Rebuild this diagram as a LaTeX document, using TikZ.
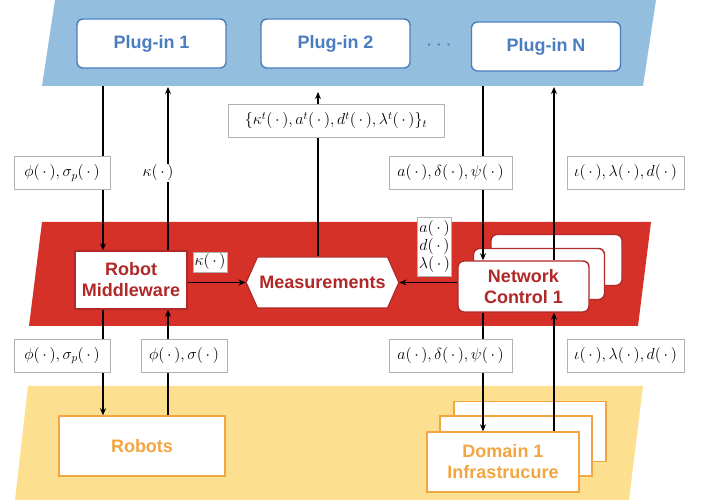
\RequirePackage{fix-cm}
\documentclass[tikz,border=0pt]{standalone}
\usepackage{fontspec}
\setsansfont{Liberation Sans}
\usetikzlibrary{arrows.meta,shapes.symbols}

\definecolor{bandblue}{HTML}{93BEDD}
\definecolor{plugblue}{HTML}{4A7DC0}
\definecolor{bandred}{HTML}{D63129}
\definecolor{boxred}{HTML}{B02828}
\definecolor{bandyellow}{HTML}{FDDF90}
\definecolor{boxorange}{HTML}{F2A541}

\newcommand{\argdot}{(\,\cdot\,)}

\begin{document}
\begin{tikzpicture}[x=1pt, y=-1pt, line width=1.3pt,
  big/.style={font=\sffamily\bfseries\fontsize{18}{21}\selectfont, align=center},
  plugin/.style={big, draw=plugblue, line width=1.4pt, fill=white, text=plugblue,
    rounded corners=6pt, minimum width=149pt, minimum height=49pt},
  ctrl/.style={big, draw=boxred, line width=1.4pt, fill=white, text=boxred,
    rounded corners=6pt, minimum width=131pt, minimum height=51pt},
  infra/.style={big, draw=boxorange, line width=1.4pt, fill=white, text=boxorange,
    minimum width=152pt, minimum height=60pt},
  lbl/.style={draw=gray!60, line width=0.8pt, fill=white, inner xsep=4pt,
    minimum height=33pt, font=\fontsize{16}{18}\selectfont},
  arr/.style={-{Stealth[length=7pt,width=6pt]}}]
  \useasboundingbox (0,0) rectangle (702,502);
  % layers
  \fill[bandblue] (55,0) -- (656,0) -- (643,86) -- (42,86) -- cycle;
  \fill[bandred] (42,222) -- (651,222) -- (638,326) -- (29,326) -- cycle;
  \fill[bandyellow] (28,386) -- (643,386) -- (629,500) -- (15,500) -- cycle;
  % plug-ins
  \node[plugin] (p1) at (151.5,43.5) {Plug-in 1};
  \node[plugin] (p2) at (335.5,43.5) {Plug-in 2};
  \node[plugin] (pN) at (546,46.5) {Plug-in N};
  \node[text=plugblue, font=\fontsize{22}{22}\selectfont] (dots) at (439,46) {$\cdots$};
  % middle layer
  \node[big, draw=boxred, line width=1.4pt, fill=white, text=boxred,
    minimum width=112pt, minimum height=58pt] (rm) at (131,280) {Robot\\Middleware};
  \node[big, shape=signal, signal to=east and west, signal pointer angle=132,
    draw=boxred, line width=1.2pt, fill=white, text=boxred, inner xsep=2pt,
    minimum width=147pt, minimum height=51pt] (meas) at (322.5,282.5) {Measurements};
  \node[ctrl] (nc3) at (556.5,260) {};
  \node[ctrl] (nc2) at (539,274) {};
  \node[ctrl] (nc1) at (523.5,286.5) {Network\\Control 1};
  % bottom layer
  \node[infra, minimum width=166pt] (robots) at (142,446) {Robots};
  \node[infra] (dom3) at (530,431.5) {};
  \node[infra] (dom2) at (516,446) {};
  \node[infra] (dom1) at (503,462) {Domain 1\\Infrastrucure};
  % band edges
  \coordinate (b1) at (103,86);
  \coordinate (b2) at (168,87);
  \coordinate (b3) at (318,92);
  \coordinate (b4) at (483,86);
  \coordinate (b5) at (554,87);
  % connectors
  \draw[arr] (b1) -- (rm.north -| b1);
  \draw[arr] (rm.north -| b2) -- (b2);
  \draw[arr] (meas.north -| b3) -- (b3);
  \draw[arr] (b4) -- (nc1.north -| b4);
  \draw[arr] (nc1.north -| b5) -- (b5);
  \draw[arr] (rm.east |- meas.west) -- (meas.west);
  \draw[arr] (nc1.west |- meas.east) -- (meas.east);
  \draw[arr] (rm.south -| b1) -- (robots.north -| b1);
  \draw[arr] (robots.north -| b2) -- (rm.south -| b2);
  \draw[arr] (nc1.south -| b4) -- (dom1.north -| b4);
  \draw[arr] (dom1.north -| b5) -- (nc1.south -| b5);
  % labels
  \node[lbl, minimum width=96pt] (l1) at (62,173) {$\phi\argdot,\sigma_p\argdot$};
  \node[fill=white, inner sep=1pt, font=\fontsize{16}{18}\selectfont] (l2) at (158,173) {$\kappa\argdot$};
  \node[lbl, minimum width=216pt] (l3) at (336,120.5) {$\{\kappa^t\argdot,a^t\argdot,d^t\argdot,\lambda^t\argdot\}_t$};
  \node[lbl, minimum width=123pt] (l4) at (450.5,173) {$a\argdot,\delta\argdot,\psi\argdot$};
  \node[lbl, minimum width=117pt] (l5) at (625.5,173) {$\iota\argdot,\lambda\argdot,d\argdot$};
  \node[lbl, minimum height=20pt, inner sep=1.5pt] (l6) at (210,262) {$\kappa\argdot$};
  \node[lbl, align=center, inner sep=1.5pt, minimum height=59pt] (l7) at (434.5,246.5) {$a\argdot$\\$d\argdot$\\$\lambda\argdot$};
  \node[lbl, minimum width=96pt] (l8) at (62,355.5) {$\phi\argdot,\sigma_p\argdot$};
  \node[lbl, minimum width=86pt] (l9) at (184,355.5) {$\phi\argdot,\sigma\argdot$};
  \node[lbl, minimum width=123pt] (l10) at (450.5,355.5) {$a\argdot,\delta\argdot,\psi\argdot$};
  \node[lbl, minimum width=117pt] (l11) at (625.5,355.5) {$\iota\argdot,\lambda\argdot,d\argdot$};
\end{tikzpicture}
\end{document}
